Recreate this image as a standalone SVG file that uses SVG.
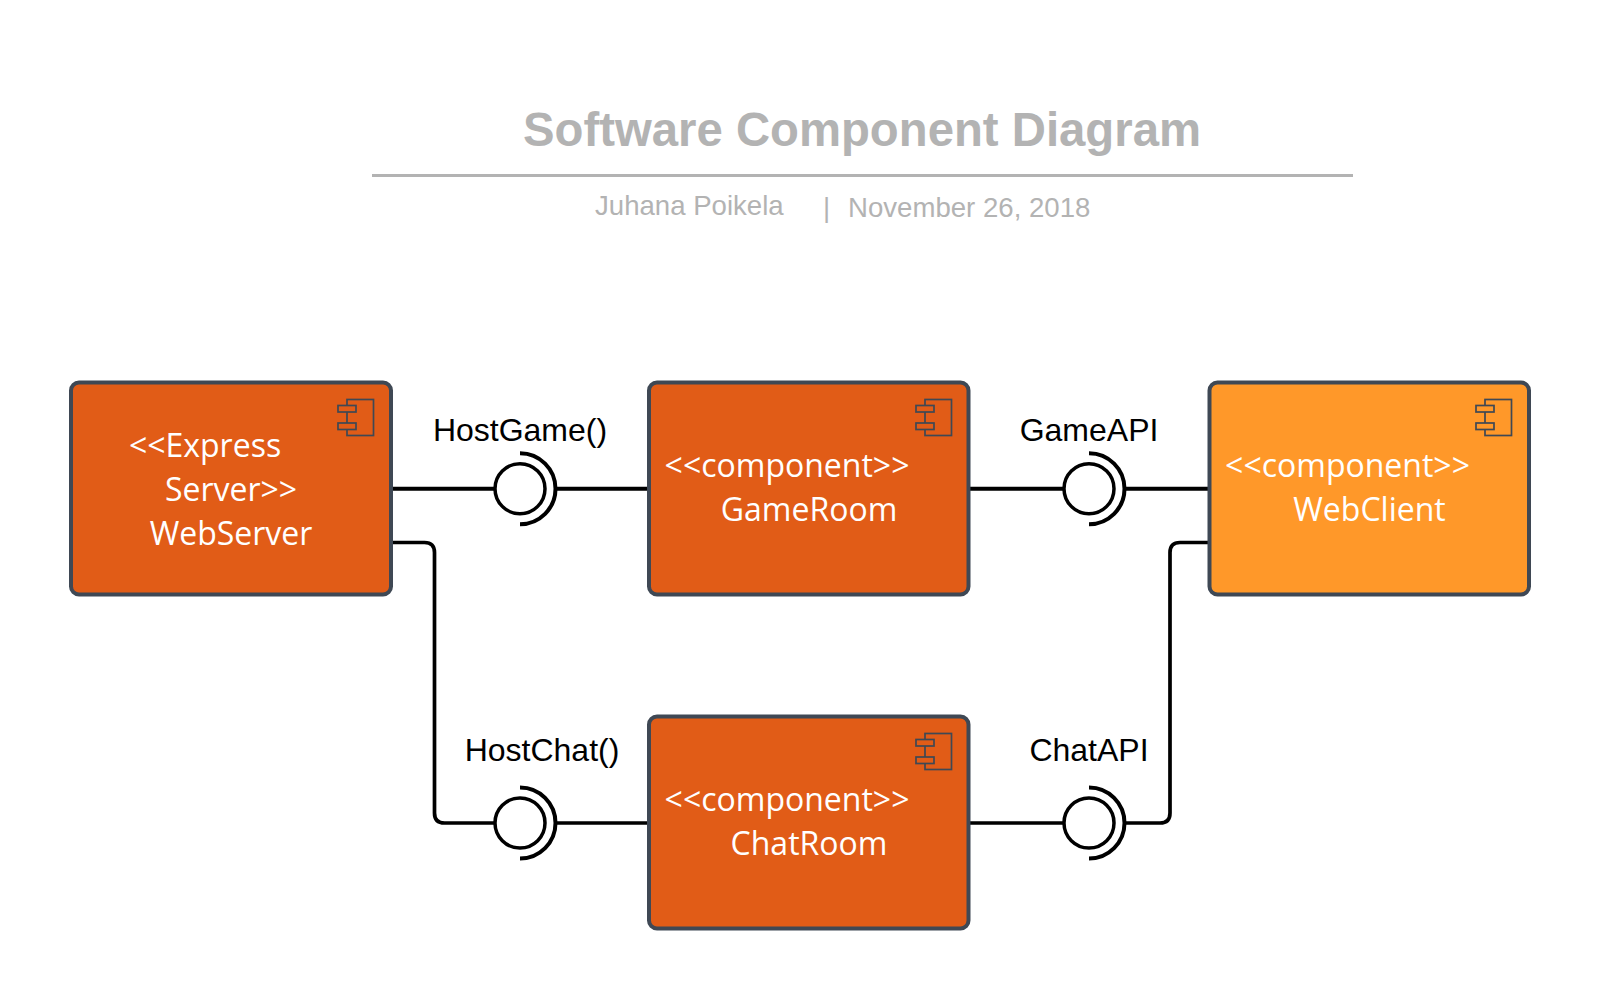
<svg xmlns="http://www.w3.org/2000/svg" width="1600" height="1001" viewBox="0 0 1600 1001">
<style>
.box{stroke:#3f4854;stroke-width:4;}
.or{fill:#e15c17}
.ye{fill:#ff9829}
.ic{stroke:#3f4854;stroke-width:1.700}
.t{font-family:"Open Sans",sans-serif;font-size:32px;fill:#fff;text-anchor:middle}
.l{font-family:"Liberation Sans",Arial,sans-serif;font-size:32px;fill:#000;text-anchor:middle}
.s{font-family:"Liberation Sans",Arial,sans-serif;font-size:27.600px;fill:#b3b3b3}
.c{fill:none;stroke:#000}
.w{fill:#fff;stroke:#000;stroke-width:3.5}
</style>
<defs>
<g id="sock"><circle class="w" r="25"/><path class="c" stroke-width="4" d="M0-35.500A35.500 35.500 0 0 1 0 35.500"/></g>
</defs>
<g id="title">
<text x="862" y="146" text-anchor="middle" font-family="'Liberation Sans',Arial,sans-serif" font-weight="700" font-size="47.300" fill="#b3b3b3">Software Component Diagram</text>
<path d="M372 175.500H1353" stroke="#b3b3b3" stroke-width="3"/>
<text class="s" x="595" y="215">Juhana Poikela</text>
<text class="s" x="823" y="217">|</text>
<text class="s" x="848" y="217">November 26, 2018</text>
</g>
<g id="connectors">
<path class="c" stroke-width="4" d="M392 488.700H495M556 488.700H649"/>
<path class="c" stroke-width="4" d="M968 488.700H1064M1125 488.700H1209"/>
<path class="c" stroke-width="3.700" d="M392 542.500H424.500Q434.500 542.500 434.500 552.500V813Q434.500 823 444.500 823H495M556 823H649"/>
<path class="c" stroke-width="3.700" d="M968 823H1064M1125 823H1160Q1170 823 1170 813V552.500Q1170 542.500 1180 542.500H1209"/>
</g>
<g id="WebServer">
<rect class="box or" x="71" y="382.500" width="320" height="212" rx="8"/>
<rect class="ic" fill="none" x="347" y="399.500" width="26.500" height="36"/><rect class="ic or" x="338" y="405.500" width="18" height="6.500"/><rect class="ic or" x="338" y="423" width="18" height="6.500"/>
<text class="t"><tspan x="205" y="457">&lt;&lt;Express</tspan><tspan x="231" y="500.800">Server&gt;&gt;</tspan><tspan x="231" y="544.500">WebServer</tspan></text>
</g>
<g id="GameRoom">
<rect class="box or" x="649" y="382.500" width="319.500" height="212" rx="8"/>
<rect class="ic" fill="none" x="925" y="399.500" width="26.500" height="36"/><rect class="ic or" x="916" y="405.500" width="18" height="6.500"/><rect class="ic or" x="916" y="423" width="18" height="6.500"/>
<text class="t"><tspan x="787" y="477">&lt;&lt;component&gt;&gt;</tspan><tspan x="809" y="520.800">GameRoom</tspan></text>
</g>
<g id="WebClient">
<rect class="box ye" x="1209.500" y="382.500" width="319.500" height="212" rx="8"/>
<rect class="ic" fill="none" x="1485" y="399.500" width="26.500" height="36"/><rect class="ic ye" x="1476" y="405.500" width="18" height="6.500"/><rect class="ic ye" x="1476" y="423" width="18" height="6.500"/>
<text class="t"><tspan x="1347.500" y="477">&lt;&lt;component&gt;&gt;</tspan><tspan x="1369.500" y="520.800">WebClient</tspan></text>
</g>
<g id="ChatRoom">
<rect class="box or" x="649" y="716.500" width="319.500" height="212" rx="8"/>
<rect class="ic" fill="none" x="925" y="733.500" width="26.500" height="36"/><rect class="ic or" x="916" y="739.500" width="18" height="6.500"/><rect class="ic or" x="916" y="757" width="18" height="6.500"/>
<text class="t"><tspan x="787" y="811">&lt;&lt;component&gt;&gt;</tspan><tspan x="809" y="854.800">ChatRoom</tspan></text>
</g>
<g id="HostGame"><use href="#sock" x="520" y="488.700"/><text class="l" x="520" y="441">HostGame()</text></g>
<g id="GameAPI"><use href="#sock" x="1089" y="488.700"/><text class="l" x="1089" y="441">GameAPI</text></g>
<g id="HostChat"><use href="#sock" x="520" y="823"/><text class="l" x="542" y="761">HostChat()</text></g>
<g id="ChatAPI"><use href="#sock" x="1089" y="823"/><text class="l" x="1089" y="761">ChatAPI</text></g>
</svg>
